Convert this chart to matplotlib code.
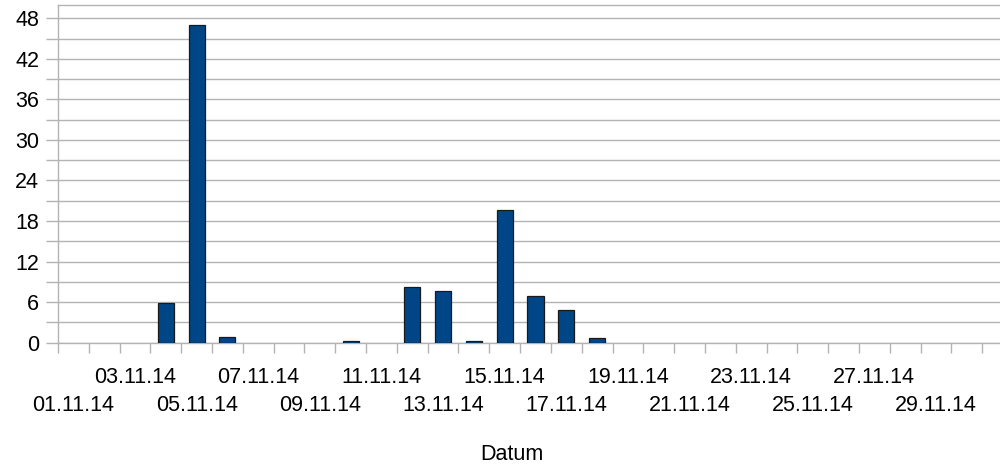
import matplotlib
matplotlib.use("Agg")
import matplotlib.pyplot as plt
import matplotlib.transforms as mtransforms
import numpy as np

dates = [f"{d:02d}.11.14" for d in range(1, 31)]
values = [0, 0, 0, 5.8, 47, 0.9, 0, 0, 0, 0.3,
          0, 8.2, 7.6, 0.3, 19.6, 6.9, 4.9, 0.7, 0, 0,
          0, 0, 0, 0, 0, 0, 0, 0, 0, 0]
y_major = [0, 6, 12, 18, 24, 30, 36, 42, 48]
y_minor = [3, 9, 15, 21, 27, 33, 39, 45]
x_label_text = "Datum"

plt.rcParams['font.family'] = ['Liberation Sans', 'DejaVu Sans']

fig = plt.figure(figsize=(10, 4.67), dpi=100)
ax = fig.add_axes([0.058, 0.2662, 0.955, 0.7237])

grid_c = '#b3b3b3'
x = np.arange(len(dates))
vals = np.array(values, dtype=float)
mask = vals > 0
ax.bar(x[mask], vals[mask], width=0.52, color='#004586', edgecolor='#1a1a1a',
       linewidth=0.9, zorder=3)

ax.set_xlim(-0.5, len(dates) + 0.5)
ax.set_ylim(0, 50)

ax.set_yticks(y_major)
ax.set_yticks(y_minor, minor=True)
ax.yaxis.grid(True, which='both', color=grid_c, linewidth=1.0, zorder=0)
ax.tick_params(axis='y', which='both', length=8.6, color=grid_c, width=1.0,
               labelsize=15.5, pad=5)

# category boundary ticks
ax.set_xticks(np.arange(0, len(dates) + 2) - 0.5)
ax.set_xticklabels([])
ax.tick_params(axis='x', which='both', length=7.5, color=grid_c, width=1.0)

for s in ax.spines.values():
    s.set_color(grid_c)
    s.set_linewidth(1.0)

trans = mtransforms.blended_transform_factory(ax.transData, fig.transFigure)
for i, d in enumerate(dates):
    if i % 2 != 0:
        continue
    if i % 4 == 2:
        yb = 1 - 383.3 / 467
    else:
        yb = 1 - 410.7 / 467
    ax.text(i, yb, d, transform=trans, ha='center', va='baseline',
            fontsize=15.5, clip_on=False)

fig.text(0.512, 1 - 460 / 467, x_label_text, ha='center', va='baseline',
         fontsize=15.5)

fig.savefig("out.png", dpi=100)
